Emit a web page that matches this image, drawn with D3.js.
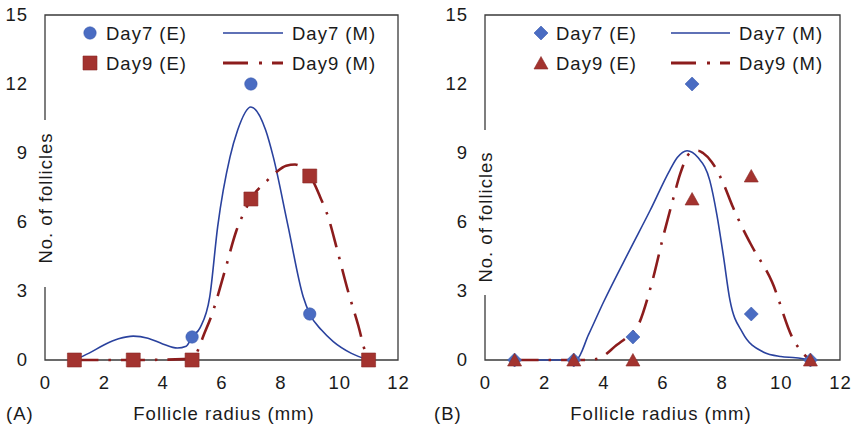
<!DOCTYPE html>
<html><head><meta charset="utf-8">
<script src="https://cdn.jsdelivr.net/npm/d3@7"></script>
<style>
html,body{margin:0;padding:0;background:#fff;}
svg{display:block;}
text{font-family:"Liberation Sans",Arial,sans-serif;fill:#1a1a1a;font-size:18.5px;letter-spacing:1px;}
</style></head>
<body>
<svg id="chart" width="853" height="430"></svg>
<script>
// ---- data ----
const xTicks = [0, 2, 4, 6, 8, 10, 12];
const yTicks = [0, 3, 6, 9, 12, 15];
const expX = [1, 3, 5, 7, 9, 11];
const day7E = [0, 0, 1, 12, 2, 0];
const day9E = [0, 0, 0, 7, 8, 0];

// Panel A model curves
const a7MX = [1, 1.5, 2, 2.5, 3, 3.5, 4, 4.5, 4.8, 5, 5.27, 5.6, 5.87, 6.29, 6.55, 7.0, 7.5, 7.76, 8.25, 8.78, 9, 9.4, 9.8, 10.4, 11];
const a7MY = [0, 0.3, 0.65, 0.92, 1.04, 0.95, 0.7, 0.52, 0.6, 1.0, 1.4, 2.74, 5.8, 8.83, 10.0, 11.0, 10.0, 8.83, 5.9, 2.74, 2.0, 1.3, 0.8, 0.3, 0];
const a9MX = [1, 3, 5, 5.2, 5.37, 5.68, 6.12, 6.5, 6.8, 7.0, 7.55, 7.86, 8.2, 8.5, 8.84, 9.1, 9.35, 9.63, 9.93, 10.3, 10.65, 10.9, 11];
const a9MY = [0, 0, 0.05, 0.43, 1.0, 2.0, 3.9, 5.6, 6.5, 7.0, 7.8, 8.17, 8.45, 8.5, 8.26, 7.8, 7.1, 6.2, 4.8, 3.0, 1.5, 0.3, 0];

// Panel B model curves
const b7MX = [1, 3, 3.1, 3.5, 4.0, 4.9, 5.58, 6.25, 6.5, 6.83, 7.2, 7.6, 7.84, 8.05, 8.28, 8.7, 9.4, 10.0, 10.5, 11];
const b7MY = [0, 0, 0.02, 1.1, 2.5, 4.8, 6.5, 8.26, 8.8, 9.1, 8.8, 7.8, 6.3, 4.6, 2.6, 1.2, 0.35, 0.15, 0.1, 0];
const b9MX = [1, 3, 3.5, 3.9, 4.45, 4.9, 5.13, 5.65, 6.05, 6.36, 6.6, 6.93, 7.2, 7.37, 7.67, 8.05, 8.38, 8.72, 9.0, 9.7, 10.4, 10.9, 11];
const b9MY = [0, 0, 0, 0.1, 0.65, 1.1, 1.4, 3.4, 5.5, 7.0, 8.1, 9.0, 9.1, 9.0, 8.6, 7.7, 6.65, 5.7, 5.0, 3.4, 0.95, 0.1, 0];

const legendLabels = ["Day7 (E)", "Day7 (M)", "Day9 (E)", "Day9 (M)"];
const xTitle = "Follicle radius (mm)";
const yTitle = "No. of follicles";

// ---- styles ----
const C = {
  blueMark: "#4a6cc2", blueLine: "#2a429e",
  redMark: "#a3332f", redLine: "#8c1c1c", axis: "#3a3a3a"
};
const DASH = "24,10,2.5,10";

const svg = d3.select("#chart");

function drawPanel(cfg) {
  const g = svg.append("g");
  const x = d3.scaleLinear().domain([0, 12]).range([cfg.x0, cfg.x1]);
  const y = d3.scaleLinear().domain([0, 15]).range([360, 15]);

  // frame
  g.append("path")
    .attr("d", `M${x(0)},${y(15)}H${x(12)}V${y(0)}H${x(0)}Z`)
    .attr("fill", "none").attr("stroke", C.axis).attr("stroke-width", 1.3);

  // axes (labels only, no tick marks)
  const xa = g.append("g").attr("transform", `translate(0,${y(0)})`)
    .call(d3.axisBottom(x).tickValues(xTicks).tickSize(0).tickPadding(16).tickFormat(d3.format("d")));
  xa.select(".domain").remove();
  xa.selectAll("text").attr("font-size", null).attr("font-family", null).attr("fill", null);
  const ya = g.append("g").attr("transform", `translate(${x(0)},0)`)
    .call(d3.axisLeft(y).tickValues(yTicks).tickSize(0).tickPadding(17).tickFormat(d3.format("d")));
  ya.select(".domain").remove();
  ya.selectAll("text").attr("font-size", null).attr("font-family", null).attr("fill", null);

  // y title with white background covering the axis line
  g.append("rect").attr("x", x(0) - 6).attr("y", cfg.gap[0]).attr("width", 12)
    .attr("height", cfg.gap[1] - cfg.gap[0]).attr("fill", "#fff");
  g.append("text").attr("transform", `translate(${x(0) + 0.5},${cfg.yLabelC}) rotate(-90)`)
    .attr("text-anchor", "middle").attr("dominant-baseline", "central").text(yTitle);

  // x title + panel letter
  g.append("text").attr("x", cfg.xTitleC).attr("y", 420).attr("text-anchor", "middle").text(xTitle);
  g.append("text").attr("x", cfg.letterX).attr("y", 420).text(cfg.letter);

  const line = d3.line().x(d => x(d[0])).y(d => y(d[1])).curve(d3.curveMonotoneX);
  const m7 = cfg.m7X.map((v, i) => [v, cfg.m7Y[i]]);
  const m9 = cfg.m9X.map((v, i) => [v, cfg.m9Y[i]]);

  g.append("path").attr("d", line(m7)).attr("fill", "none")
    .attr("stroke", C.blueLine).attr("stroke-width", 1.6);
  g.append("path").attr("d", line(m9)).attr("fill", "none")
    .attr("stroke", C.redLine).attr("stroke-width", 2.6).attr("stroke-dasharray", DASH);

  // markers
  const e7 = expX.map((v, i) => [v, day7E[i]]);
  const e9 = expX.map((v, i) => [v, day9E[i]]);
  g.selectAll(null).data(e7).enter().append("path")
    .attr("transform", d => `translate(${x(d[0])},${y(d[1])})`)
    .attr("d", cfg.sym7).attr("fill", C.blueMark).attr("stroke", "#3d5cb0").attr("stroke-width", 0.6);
  g.selectAll(null).data(e9).enter().append("path")
    .attr("transform", d => `translate(${x(d[0])},${y(d[1])})`)
    .attr("d", cfg.sym9).attr("fill", C.redMark).attr("stroke", "#8a2a27").attr("stroke-width", 0.6);

  // legend
  const L = cfg.legend;
  const rows = [33, 63];
  g.append("path").attr("transform", `translate(${L.mx},${rows[0]})`).attr("d", cfg.sym7)
    .attr("fill", C.blueMark).attr("stroke", "#3d5cb0").attr("stroke-width", 0.6);
  g.append("text").attr("x", L.tx).attr("y", rows[0]).attr("dominant-baseline", "central").text(legendLabels[0]);
  g.append("line").attr("x1", L.l0).attr("x2", L.l1).attr("y1", rows[0]).attr("y2", rows[0])
    .attr("stroke", C.blueLine).attr("stroke-width", 1.6);
  g.append("text").attr("x", L.t2).attr("y", rows[0]).attr("dominant-baseline", "central").text(legendLabels[1]);
  g.append("path").attr("transform", `translate(${L.mx},${rows[1]})`).attr("d", cfg.sym9)
    .attr("fill", C.redMark).attr("stroke", "#8a2a27").attr("stroke-width", 0.6);
  g.append("text").attr("x", L.tx).attr("y", rows[1]).attr("dominant-baseline", "central").text(legendLabels[2]);
  g.append("line").attr("x1", L.l0).attr("x2", L.l1).attr("y1", rows[1]).attr("y2", rows[1])
    .attr("stroke", C.redLine).attr("stroke-width", 2.8).attr("stroke-dasharray", "25,11,3,10");
  g.append("text").attr("x", L.t2).attr("y", rows[1]).attr("dominant-baseline", "central").text(legendLabels[3]);
}

const circle = d3.symbol().type(d3.symbolCircle).size(Math.PI * 6.2 * 6.2)();
const square = "M-7,-7H7V7H-7Z";
const diamond = "M0,-7L7,0L0,7L-7,0Z";
const triangle = "M0,-6.5L7,6L-7,6Z";

drawPanel({
  x0: 45, x1: 398, gap: [120, 287], yLabelC: 198, xTitleC: 224, letterX: 6, letter: "(A)",
  m7X: a7MX, m7Y: a7MY, m9X: a9MX, m9Y: a9MY, sym7: circle, sym9: square,
  legend: { mx: 90, tx: 106, l0: 223, l1: 283, t2: 292 }
});
drawPanel({
  x0: 485, x1: 840, gap: [130, 295], yLabelC: 217, xTitleC: 661, letterX: 434, letter: "(B)",
  m7X: b7MX, m7Y: b7MY, m9X: b9MX, m9Y: b9MY, sym7: diamond, sym9: triangle,
  legend: { mx: 541, tx: 556, l0: 671, l1: 730, t2: 739 }
});
</script>
</body></html>
